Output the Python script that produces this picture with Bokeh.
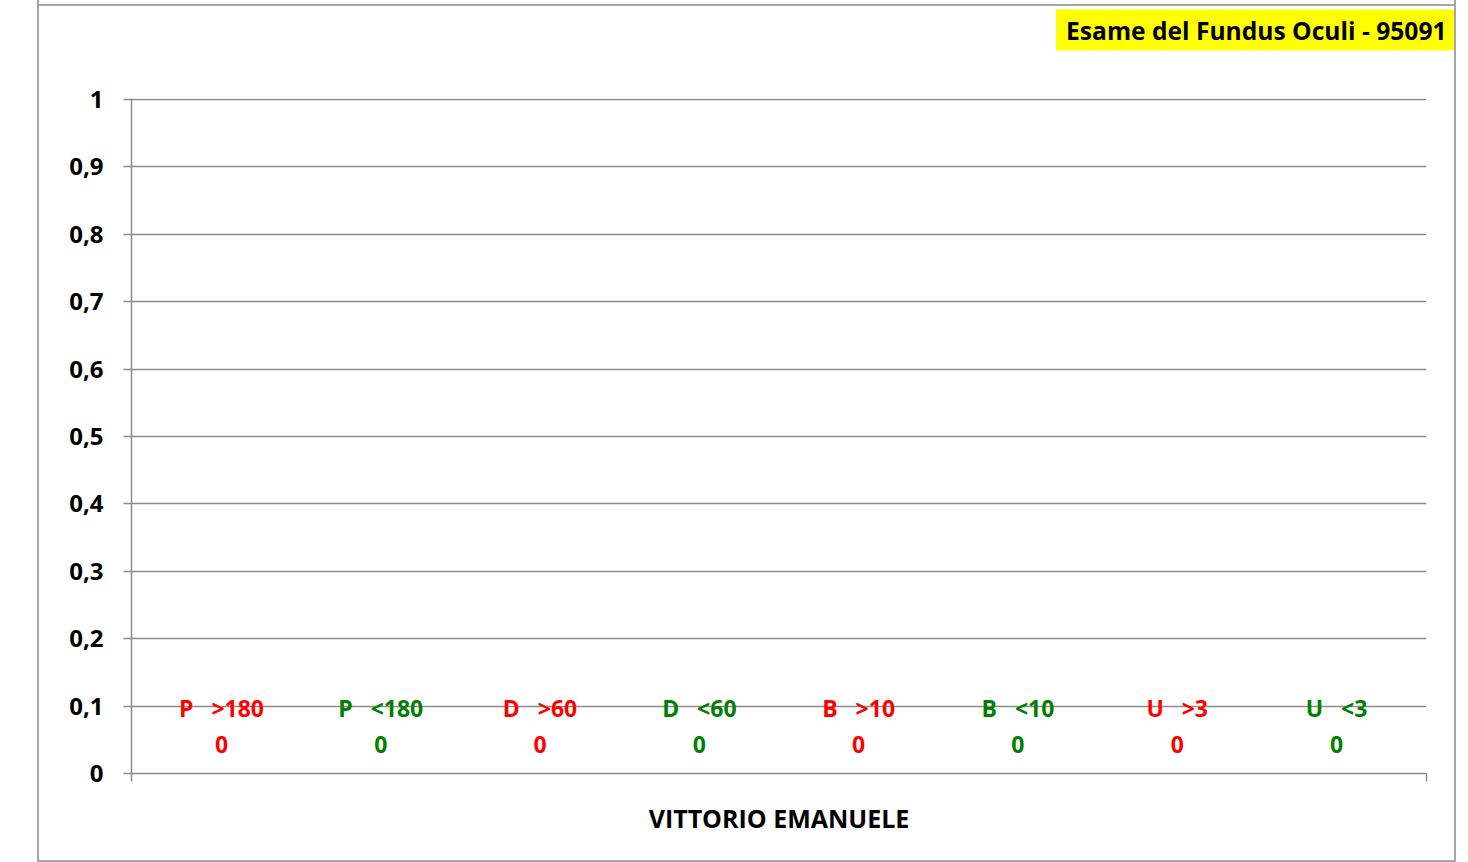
from bokeh.plotting import figure
from bokeh.models import Range1d, FixedTicker, CustomJSTickFormatter, ColumnDataSource
from bokeh.core.properties import value
from bokeh.embed import file_html
from bokeh.resources import INLINE

# ---- data ----
categories = ["P  >180", "P  <180", "D  >60", "D  <60", "B  >10", "B  <10", "U  >3", "U  <3"]
values = [0, 0, 0, 0, 0, 0, 0, 0]
colors = ["#FF0000", "#008000", "#FF0000", "#008000", "#FF0000", "#008000", "#FF0000", "#008000"]
y_ticks = [0, 0.1, 0.2, 0.3, 0.4, 0.5, 0.6, 0.7, 0.8, 0.9, 1.0]
group_label = "VITTORIO EMANUELE"
title_text = "Esame del Fundus Oculi - 95091"

FONT = "Open Sans"
GRID = "#8c8c8c"
BORDER = "#a6a6a6"

xs = list(range(len(categories)))
shown = [c.replace("  ", "\u00a0\u00a0 ") for c in categories]
src = ColumnDataSource(dict(x=xs, top=values, cat=shown, col=colors,
                            val=[str(v) for v in values]))

pad = 0.565
x_end = len(categories) - 1 + pad
p = figure(output_backend="svg", toolbar_location=None,
           frame_width=1295, frame_height=675,
           x_range=Range1d(-pad, x_end),
           y_range=Range1d(0, 1.0015),
           min_border_left=92, min_border_right=28,
           min_border_top=90, min_border_bottom=87)
p.styles = {
    "border-left": f"2px solid {BORDER}",
    "border-right": f"2px solid {BORDER}",
    "border-bottom": f"2px solid {BORDER}",
    "margin-left": "37px",
    "margin-top": "-41px",
    "background": f"linear-gradient(to bottom, #ffffff 0px, #ffffff 45px, {BORDER} 45px, {BORDER} 47px, #ffffff 47px)",
}
p.outline_line_color = None
p.background_fill_color = "white"
p.border_fill_color = None

# title box at top right
p.title.text = title_text
p.title.align = "right"
p.title.offset = -30
p.title.standoff = 96
p.title.text_font = FONT
p.title.text_font_style = "bold"
p.title.text_font_size = "24.6px"
p.title.text_color = "black"
p.title.background_fill_color = "#FFFF00"
if "padding" in p.title.properties():
    p.title.padding = (10, 4)

# bars (value 0)
p.vbar(x="x", top="top", bottom=0, width=0.6, color="col", source=src)

# labels
p.text(x="x", y="top", text="cat", text_color="col", source=src,
       text_font=value(FONT), text_font_style="bold", text_font_size="23px",
       text_align="center", text_baseline="middle", y_offset=-66)
p.text(x="x", y="top", text="val", text_color="col", source=src,
       text_font=value(FONT), text_font_style="bold", text_font_size="23px",
       text_align="center", text_baseline="middle", y_offset=-29)

# y axis
ya = p.yaxis[0]
ya.ticker = FixedTicker(ticks=y_ticks)
ya.formatter = CustomJSTickFormatter(code="return tick.toFixed(1).replace('.', ',').replace(',0', '');")
ya.axis_line_color = GRID
ya.axis_line_width = 1.5
ya.major_tick_line_color = GRID
ya.major_tick_line_width = 1.5
ya.major_tick_out = 8
ya.major_tick_in = 0
ya.minor_tick_line_color = None
ya.major_label_standoff = 20
ya.major_label_text_font = FONT
ya.major_label_text_font_style = "bold"
ya.major_label_text_font_size = "24px"
ya.major_label_text_color = "black"

# x axis
xa = p.xaxis[0]
xa.ticker = FixedTicker(ticks=[-pad, x_end])
xa.formatter = CustomJSTickFormatter(code="return '';")
xa.axis_line_color = GRID
xa.axis_line_width = 1.5
xa.major_tick_line_color = GRID
xa.major_tick_line_width = 1.5
xa.major_tick_out = 8
xa.major_tick_in = 0
xa.minor_tick_line_color = None
xa.major_label_text_font_size = "1px"
xa.axis_label = group_label
xa.axis_label_text_font = FONT
xa.axis_label_text_font_style = "bold"
xa.axis_label_text_font_size = "25px"
xa.axis_label_text_color = "black"
xa.axis_label_standoff = 19

p.xgrid.grid_line_color = None
p.ygrid.grid_line_color = GRID
p.ygrid.grid_line_width = 1.5

open("out.html", "w").write(file_html(p, INLINE))
